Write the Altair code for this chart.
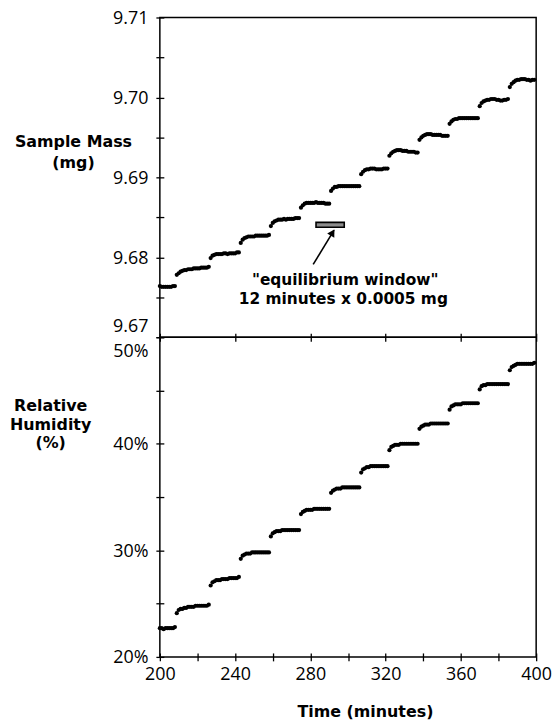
import altair as alt
import pandas as pd

# ---------------- data ----------------
times = [
    200, 201, 202, 203, 204, 205, 206, 207, 208,
    209, 210, 211, 212, 213, 214, 215, 216, 217, 218, 219, 220, 221, 222, 223, 224, 225, 226,
    227, 228, 229, 230, 231, 232, 233, 234, 235, 236, 237, 238, 239, 240, 241, 242,
    243, 244, 245, 246, 247, 248, 249, 250, 251, 252, 253, 254, 255, 256, 257, 258,
    259, 260, 261, 262, 263, 264, 265, 266, 267, 268, 269, 270, 271, 272, 273, 274,
    275, 276, 277, 278, 279, 280, 281, 282, 283, 284, 285, 286, 287, 288, 289, 290,
    291, 292, 293, 294, 295, 296, 297, 298, 299, 300, 301, 302, 303, 304, 305, 306,
    307, 308, 309, 310, 311, 312, 313, 314, 315, 316, 317, 318, 319, 320, 321,
    322, 323, 324, 325, 326, 327, 328, 329, 330, 331, 332, 333, 334, 335, 336, 337,
    338, 339, 340, 341, 342, 343, 344, 345, 346, 347, 348, 349, 350, 351, 352, 353,
    354, 355, 356, 357, 358, 359, 360, 361, 362, 363, 364, 365, 366, 367, 368, 369,
    370, 371, 372, 373, 374, 375, 376, 377, 378, 379, 380, 381, 382, 383, 384, 385,
    386, 387, 388, 389, 390, 391, 392, 393, 394, 395, 396, 397, 398, 399,
]

mass = [
    9.6764, 9.6763, 9.6763, 9.6763, 9.6763, 9.6763, 9.6763, 9.6764, 9.6764,
    9.6778, 9.6780, 9.6782, 9.6783, 9.6784, 9.6784, 9.6785, 9.6785, 9.6785, 9.6786, 9.6786, 9.6786, 9.6786, 9.6787, 9.6787, 9.6787, 9.6787, 9.6788,
    9.6799, 9.6802, 9.6803, 9.6804, 9.6804, 9.6804, 9.6804, 9.6805, 9.6805, 9.6804, 9.6805, 9.6805, 9.6805, 9.6805, 9.6806, 9.6806,
    9.6818, 9.6822, 9.6824, 9.6825, 9.6826, 9.6826, 9.6826, 9.6826, 9.6827, 9.6827, 9.6827, 9.6827, 9.6827, 9.6827, 9.6827, 9.6828,
    9.6839, 9.6843, 9.6845, 9.6846, 9.6847, 9.6847, 9.6847, 9.6848, 9.6847, 9.6848, 9.6848, 9.6848, 9.6848, 9.6849, 9.6849, 9.6849,
    9.6862, 9.6865, 9.6867, 9.6868, 9.6868, 9.6868, 9.6868, 9.6868, 9.6869, 9.6868, 9.6868, 9.6868, 9.6868, 9.6867, 9.6867, 9.6867,
    9.6883, 9.6886, 9.6888, 9.6888, 9.6889, 9.6889, 9.6889, 9.6889, 9.6889, 9.6889, 9.6889, 9.6889, 9.6889, 9.6889, 9.6889, 9.6889,
    9.6904, 9.6907, 9.6909, 9.6910, 9.6910, 9.6911, 9.6911, 9.6911, 9.6910, 9.6910, 9.6910, 9.6910, 9.6911, 9.6911, 9.6911,
    9.6927, 9.6930, 9.6932, 9.6933, 9.6934, 9.6934, 9.6934, 9.6933, 9.6933, 9.6933, 9.6932, 9.6932, 9.6932, 9.6932, 9.6931, 9.6931,
    9.6947, 9.6950, 9.6952, 9.6953, 9.6954, 9.6954, 9.6954, 9.6953, 9.6953, 9.6953, 9.6953, 9.6953, 9.6952, 9.6952, 9.6952, 9.6952,
    9.6967, 9.6970, 9.6972, 9.6973, 9.6973, 9.6974, 9.6974, 9.6974, 9.6974, 9.6974, 9.6974, 9.6974, 9.6974, 9.6974, 9.6974, 9.6974,
    9.6989, 9.6993, 9.6995, 9.6996, 9.6997, 9.6997, 9.6998, 9.6998, 9.6998, 9.6997, 9.6997, 9.6996, 9.6996, 9.6997, 9.6997, 9.6998,
    9.7013, 9.7017, 9.7019, 9.7021, 9.7022, 9.7022, 9.7023, 9.7023, 9.7023, 9.7022, 9.7022, 9.7021, 9.7022, 9.7022,
]

rh = [
    22.7, 22.7, 22.6, 22.7, 22.7, 22.7, 22.7, 22.7, 22.8,
    24.1, 24.4, 24.5, 24.5, 24.6, 24.6, 24.7, 24.7, 24.7, 24.7, 24.8, 24.8, 24.8, 24.8, 24.8, 24.8, 24.8, 24.9,
    26.7, 27.0, 27.1, 27.2, 27.2, 27.2, 27.3, 27.3, 27.3, 27.3, 27.4, 27.4, 27.4, 27.4, 27.4, 27.5,
    29.2, 29.5, 29.6, 29.7, 29.7, 29.7, 29.8, 29.8, 29.8, 29.8, 29.8, 29.8, 29.8, 29.8, 29.8, 29.8,
    31.3, 31.6, 31.7, 31.8, 31.8, 31.8, 31.9, 31.9, 31.9, 31.9, 31.9, 31.9, 31.9, 31.9, 31.9, 31.9,
    33.4, 33.6, 33.7, 33.8, 33.8, 33.8, 33.8, 33.9, 33.9, 33.9, 33.9, 33.9, 33.9, 33.9, 33.9, 33.9,
    35.4, 35.6, 35.7, 35.8, 35.8, 35.8, 35.9, 35.9, 35.9, 35.9, 35.9, 35.9, 35.9, 35.9, 35.9, 35.9,
    37.3, 37.6, 37.7, 37.8, 37.8, 37.9, 37.9, 37.9, 37.9, 37.9, 37.9, 37.9, 37.9, 37.9, 37.9,
    39.4, 39.7, 39.8, 39.9, 39.9, 39.9, 40.0, 40.0, 40.0, 40.0, 40.0, 40.0, 40.0, 40.0, 40.0, 40.0,
    41.4, 41.6, 41.7, 41.8, 41.8, 41.8, 41.9, 41.9, 41.9, 41.9, 41.9, 41.9, 41.9, 41.9, 41.9, 41.9,
    43.2, 43.5, 43.6, 43.7, 43.7, 43.7, 43.7, 43.8, 43.8, 43.8, 43.8, 43.8, 43.8, 43.8, 43.8, 43.8,
    45.1, 45.4, 45.5, 45.5, 45.6, 45.6, 45.6, 45.6, 45.6, 45.6, 45.6, 45.6, 45.6, 45.6, 45.6, 45.6,
    46.9, 47.2, 47.3, 47.4, 47.5, 47.5, 47.5, 47.5, 47.5, 47.5, 47.5, 47.5, 47.5, 47.6,
]

x_ticks = [200, 220, 240, 260, 280, 300, 320, 340, 360, 380, 400]
mass_ticks = [9.67, 9.675, 9.68, 9.685, 9.69, 9.695, 9.70, 9.705, 9.71]
rh_ticks = [20, 25, 30, 35, 40, 45, 50]

# equilibrium window (minutes, mg) and arrow
window_t = [283, 298]
window_m = [9.68375, 9.68437]
arrow_t = [281.5, 292.6]
arrow_m = [9.6791, 9.6834]
arrow_head_t = [291.8]
arrow_head_m = [9.6831]
note_lines = ['"equilibrium window"', "12 minutes x 0.0005 mg"]
note_t = [298.5, 297.5]
note_m = [9.6772, 9.6748]

# ---------------- chart ----------------
FONT = "Open Sans"
BOLD = "DejaVu Sans"
W, H = 379, 322

df = pd.DataFrame({"t": times, "mass": mass, "rh": rh})
xscale = alt.Scale(domain=[200, 400], nice=False, zero=False)
mscale = alt.Scale(domain=[9.67, 9.71], nice=False, zero=False)
rscale = alt.Scale(domain=[20, 50], nice=False, zero=False)

tick_common = dict(offset=-4, tickSize=8, domain=False, grid=False,
                   tickColor="black", tickWidth=1.3, labelColor="black",
                   labelFont=FONT, labelFontSize=18, title=None,
                   labelOverlap=False, labelFlush=False)

top_x_axis = alt.Axis(values=x_ticks, labels=False, **tick_common)
bot_x_axis = alt.Axis(values=x_ticks, labelPadding=5,
                      labelExpr="datum.value % 40 == 0 ? datum.value : ''",
                      **tick_common)
mass_axis = alt.Axis(
    values=mass_ticks, labelPadding=8,
    labelExpr="abs(datum.value*100 - round(datum.value*100)) < 0.01 ? format(datum.value, '.2f') : ''",
    labelOffset={"condition": {"test": "datum.value < 9.671", "value": -11}, "value": 1},
    **tick_common)
rh_axis = alt.Axis(
    values=rh_ticks, labelPadding=8,
    labelExpr="datum.value % 10 == 0 ? datum.value + '%' : ''",
    labelOffset={"condition": {"test": "datum.value > 49", "value": 14}, "value": 1},
    **tick_common)

top_pts = alt.Chart(df).mark_circle(size=18, color="black", opacity=1).encode(
    x=alt.X("t:Q", scale=xscale, axis=top_x_axis),
    y=alt.Y("mass:Q", scale=mscale, axis=mass_axis),
)

win_df = pd.DataFrame({"t": [window_t[0]], "t2": [window_t[1]],
                       "mass": [window_m[0]], "mass2": [window_m[1]]})
win = alt.Chart(win_df).mark_rect(fill="#8c8c8c", stroke="black", strokeWidth=1.6).encode(
    x=alt.X("t:Q", title=None), x2="t2", y=alt.Y("mass:Q", title=None), y2="mass2")

arr_df = pd.DataFrame({"t": [arrow_t[0]], "t2": [arrow_t[1]],
                       "mass": [arrow_m[0]], "mass2": [arrow_m[1]]})
arrow = alt.Chart(arr_df).mark_rule(color="black", strokeWidth=1.6).encode(
    x=alt.X("t:Q", title=None), x2="t2", y=alt.Y("mass:Q", title=None), y2="mass2")

head_df = pd.DataFrame({"t": arrow_head_t, "mass": arrow_head_m})
head = alt.Chart(head_df).mark_point(shape="triangle-up", filled=True, color="black",
                                     size=70, angle=31, opacity=1).encode(
    x=alt.X("t:Q", title=None), y=alt.Y("mass:Q", title=None))

note_df = pd.DataFrame({"t": note_t, "mass": note_m, "label": note_lines})
note = alt.Chart(note_df).mark_text(font=BOLD, fontSize=15.5, fontWeight="bold",
                                    color="black").encode(
    x=alt.X("t:Q", title=None), y=alt.Y("mass:Q", title=None), text="label:N")

mass_title_df = pd.DataFrame({"label": ["Sample Mass", "(mg)"], "py": [125, 147]})
mass_title = alt.Chart(mass_title_df).mark_text(
    font=BOLD, fontSize=16, fontWeight="bold", color="black", x=-87).encode(
    y=alt.Y("py:Q", scale=None, title=None), text="label:N")

top = alt.layer(top_pts, win, arrow, head, note, mass_title).properties(width=W, height=H)

bot_pts = alt.Chart(df).mark_circle(size=18, color="black", opacity=1).encode(
    x=alt.X("t:Q", scale=xscale, axis=bot_x_axis),
    y=alt.Y("rh:Q", scale=rscale, axis=rh_axis),
)

rh_title_df = pd.DataFrame({"label": ["Relative", "Humidity", "(%)"], "py": [69, 88, 107]})
rh_title = alt.Chart(rh_title_df).mark_text(
    font=BOLD, fontSize=16, fontWeight="bold", color="black", x=-110).encode(
    y=alt.Y("py:Q", scale=None, title=None), text="label:N")

time_title_df = pd.DataFrame({"label": ["Time (minutes)"]})
time_title = alt.Chart(time_title_df).mark_text(
    font=BOLD, fontSize=16, fontWeight="bold", color="black", x=207, y=378).encode(
    text="label:N")

bottom = alt.layer(bot_pts, rh_title, time_title).resolve_scale(y="independent").properties(width=W, height=H)

chart = alt.vconcat(top, bottom, spacing=0, bounds="flush").properties(
    padding={"left": 9, "top": 6, "right": 5, "bottom": 5}
).configure(
    background="white",
    view=alt.ViewConfig(stroke="black", strokeWidth=1.5),
)

chart.save("out.html", embed_options={"renderer": "svg", "actions": False})
